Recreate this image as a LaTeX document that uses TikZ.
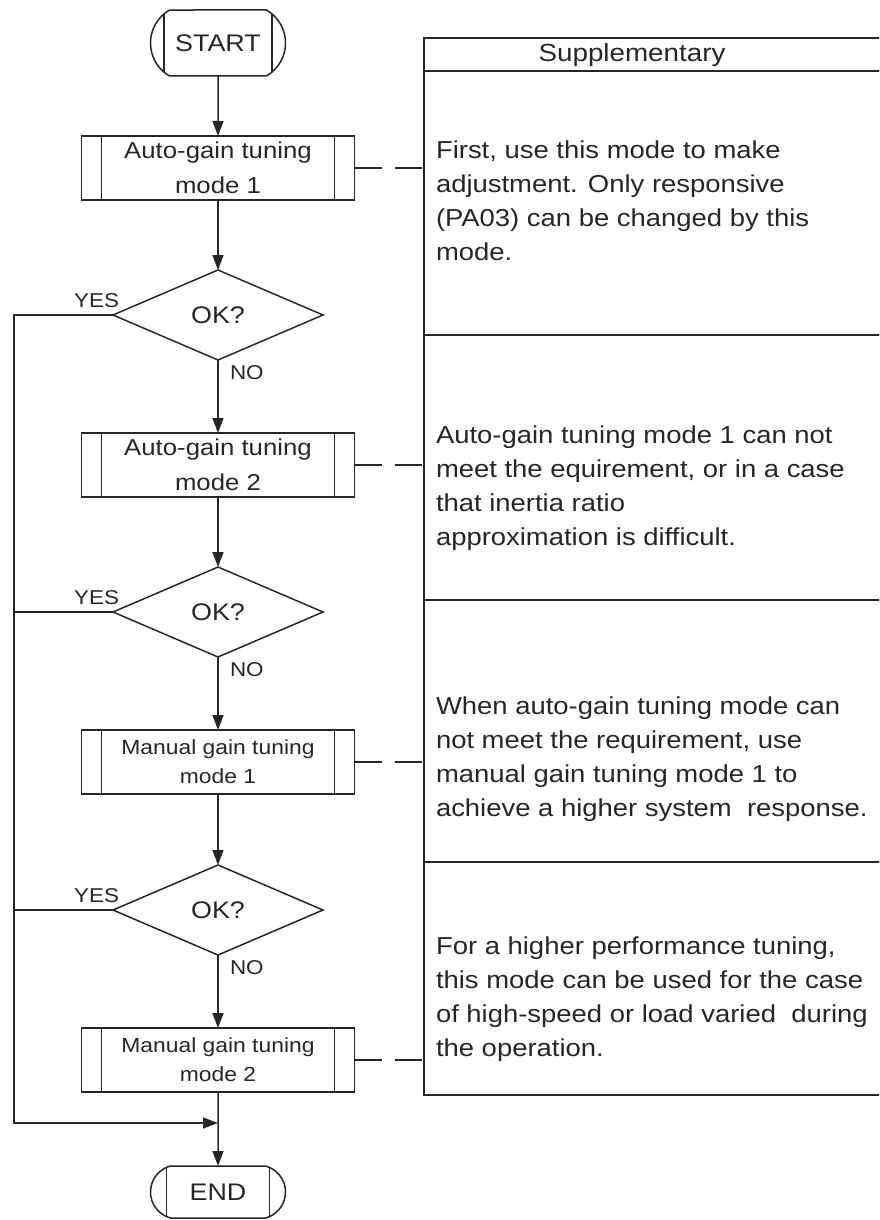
\documentclass[tikz,border=0pt]{standalone}
\usepackage{fontspec}
\setmainfont{Liberation Sans}[FakeStretch=1.12]
\usetikzlibrary{arrows.meta,positioning,shapes.geometric,shapes.misc}

\begin{document}
\begin{tikzpicture}[
  x=0.5pt, y=-0.5pt,
  line width=0.75pt,
  color=black!85,
  every node/.style={outer sep=0pt},
  terminal/.style={
    rounded rectangle,
    rounded rectangle arc length=120,
    draw,
    minimum width=67.5pt,
    minimum height=33pt,
    inner sep=0pt,
    font=\fontsize{12pt}{14pt}\selectfont,
    path picture={
      \draw ([xshift=9.5pt]path picture bounding box.north west) -- ([xshift=9.5pt]path picture bounding box.south west);
      \draw ([xshift=-9.5pt]path picture bounding box.north east) -- ([xshift=-9.5pt]path picture bounding box.south east);
    }
  },
  process/.style={
    draw,
    align=center,
    minimum width=136.5pt,
    minimum height=32pt,
    inner sep=0pt,
    path picture={
      \draw ([xshift=10pt]path picture bounding box.north west) -- ([xshift=10pt]path picture bounding box.south west);
      \draw ([xshift=-10pt]path picture bounding box.north east) -- ([xshift=-10pt]path picture bounding box.south east);
    }
  },
  autotext/.style={font=\fontsize{11.5pt}{17.5pt}\selectfont},
  mantext/.style={font=\fontsize{10.2pt}{14.5pt}\selectfont},
  decision/.style={diamond, draw, minimum width=105pt, minimum height=45pt, inner sep=0pt, font=\fontsize{12pt}{14pt}\selectfont},
  answer/.style={inner sep=0pt, font=\fontsize{10pt}{12pt}\selectfont},
  flow/.style={-{Triangle[length=7.5pt,width=5.5pt]}},
  link/.style={dash pattern=on 13.5pt off 6.5pt},
  cell/.style={draw, line width=1pt, minimum width=230pt, inner sep=0pt, anchor=north west},
  note/.style={align=left, inner sep=0pt, anchor=west, font=\fontsize{12.25pt}{17pt}\selectfont}
]
\clip (0,0) rectangle (879,1220);

% flow chart
\node[terminal] (start) at (218,43) {START};
\node[process, autotext, below=30pt of start] (tune1) {Auto-gain tuning\\mode 1};
\node[decision, below=35pt of tune1] (ok1) {OK?};
\node[process, autotext, below=36.5pt of ok1] (tune2) {Auto-gain tuning\\mode 2};
\node[decision, below=35pt of tune2] (ok2) {OK?};
\node[process, mantext, below=36.5pt of ok2] (tune3) {Manual gain tuning\\mode 1};
\node[decision, below=35.5pt of tune3] (ok3) {OK?};
\node[process, mantext, below=36.5pt of ok3] (tune4) {Manual gain tuning\\mode 2};
\node[terminal, minimum height=26pt, rounded rectangle arc length=150, below=37pt of tune4] (end) {END};
\coordinate[below=15.5pt of tune4] (join);
\coordinate (rail) at (14,0);

\node[answer, anchor=south east] (yes1) at ([xshift=3pt,yshift=3.5pt]ok1.west) {YES};
\node[answer, anchor=south east] (yes2) at ([xshift=3pt,yshift=3.5pt]ok2.west) {YES};
\node[answer, anchor=south east] (yes3) at ([xshift=3pt,yshift=3.5pt]ok3.west) {YES};
\node[answer, anchor=north west] (no1) at ([xshift=6pt,yshift=-3pt]ok1.south) {NO};
\node[answer, anchor=north west] (no2) at ([xshift=6pt,yshift=-3pt]ok2.south) {NO};
\node[answer, anchor=north west] (no3) at ([xshift=6pt,yshift=-3pt]ok3.south) {NO};

\draw[flow] (start) -- (tune1);
\draw[flow] (tune1) -- (ok1);
\draw[flow] (ok1) -- (tune2);
\draw[flow] (tune2) -- (ok2);
\draw[flow] (ok2) -- (tune3);
\draw[flow] (tune3) -- (ok3);
\draw[flow] (ok3) -- (tune4);
\draw[flow] (tune4) -- (end);
\draw[flow] (ok1.west) -| (join -| rail) -- (join);
\draw (ok2.west) -- (ok2.west -| rail);
\draw (ok3.west) -- (ok3.west -| rail);

% supplementary table
\node[cell, minimum height=16.5pt] (head) at (424,38) {};
\node[cell, minimum height=132pt] (row1) at (head.south west) {};
\node[cell, minimum height=132.5pt] (row2) at (row1.south west) {};
\node[cell, minimum height=131pt] (row3) at (row2.south west) {};
\node[cell, minimum height=116.5pt] (row4) at (row3.south west) {};
\node[inner sep=0pt, font=\fontsize{12.4pt}{14pt}\selectfont] (supp) at (632,55) {Supplementary};

\node[note] (note1) at (436,201) {First, use this mode to make\\adjustment. Only responsive\\(PA03) can be changed by this\\mode.};
\node[note] (note2) at (436,488) {Auto-gain tuning mode 1 can not\\meet the equirement, or in a case\\that inertia ratio\\approximation is difficult.};
\node[note] (note3) at (436,759) {When auto-gain tuning mode can\\not meet the requirement, use\\manual gain tuning mode 1 to\\achieve a higher system~ response.};
\node[note] (note4) at (436,999) {For a higher performance tuning,\\this mode can be used for the case\\of high-speed or load varied~ during\\the operation.};

\draw[link] (tune1.east) -- (tune1.east -| row1.west);
\draw[link] (tune2.east) -- (tune2.east -| row2.west);
\draw[link] (tune3.east) -- (tune3.east -| row3.west);
\draw[link] (tune4.east) -- (tune4.east -| row4.west);

\end{tikzpicture}
\end{document}
